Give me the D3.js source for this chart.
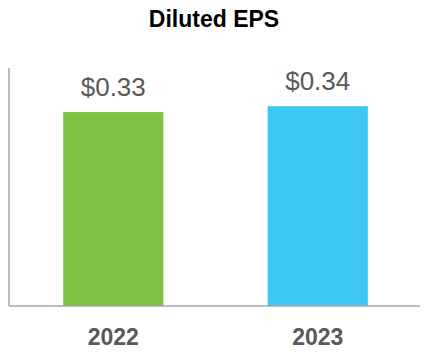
<!DOCTYPE html>
<html>
<head>
<meta charset="utf-8">
<script src="https://cdn.jsdelivr.net/npm/d3@7"></script>
<style>
  body { margin: 0; background: #fff; }
  svg { display: block; font-family: "Liberation Sans", Arial, sans-serif; }
</style>
</head>
<body>
<div id="chart"></div>
<script>
// chart data
var years = ["2022", "2023"];
var eps = [0.33, 0.34];
var barColors = ["#7dc242", "#3dc8f4"];

var width = 430,
    height = 360,
    margin = { top: 68, right: 8, bottom: 54, left: 9 };

var svg = d3.select("#chart")
    .append("svg")
    .attr("width", width)
    .attr("height", height);

var x = d3.scaleBand()
    .domain(years)
    .range([margin.left, width - margin.right])
    .paddingInner(0.51)
    .paddingOuter(0.265);

var y = d3.scaleLinear()
    .domain([0, 0.405])
    .range([height - margin.bottom, margin.top]);

// title
svg.append("text")
    .attr("x", 214)
    .attr("y", 27)
    .attr("text-anchor", "middle")
    .style("font-weight", "700")
    .style("font-size", "23px")
    .style("fill", "#000")
    .text("Diluted EPS");

// bars
svg.append("g")
    .selectAll("rect")
    .data(eps)
    .join("rect")
    .attr("x", (d, i) => x(years[i]))
    .attr("y", d => y(d))
    .attr("width", x.bandwidth())
    .attr("height", d => y(0) - y(d))
    .attr("fill", (d, i) => barColors[i]);

// value labels
svg.append("g")
    .selectAll("text")
    .data(eps)
    .join("text")
    .attr("x", (d, i) => x(years[i]) + x.bandwidth() / 2)
    .attr("y", d => y(d) - 16)
    .attr("text-anchor", "middle")
    .style("font-size", "26px")
    .style("fill", "#595959")
    .text(d => "$" + d3.format(".2f")(d));

// axes lines
svg.append("line")
    .attr("x1", margin.left).attr("x2", margin.left)
    .attr("y1", margin.top).attr("y2", y(0))
    .attr("stroke", "#a6a6a6")
    .attr("stroke-width", 1.5);

svg.append("line")
    .attr("x1", margin.left).attr("x2", 420)
    .attr("y1", y(0)).attr("y2", y(0))
    .attr("stroke", "#a6a6a6")
    .attr("stroke-width", 1.5);

// category labels
var xAxis = svg.append("g")
    .attr("transform", "translate(0," + y(0) + ")")
    .call(d3.axisBottom(x).tickSize(0));

xAxis.select(".domain").remove();
xAxis.selectAll("text")
    .style("font-family", "'Liberation Sans', Arial, sans-serif")
    .style("font-size", "23px")
    .style("font-weight", "700")
    .style("fill", "#595959")
    .attr("dy", 0)
    .attr("y", 39);
</script>
</body>
</html>
